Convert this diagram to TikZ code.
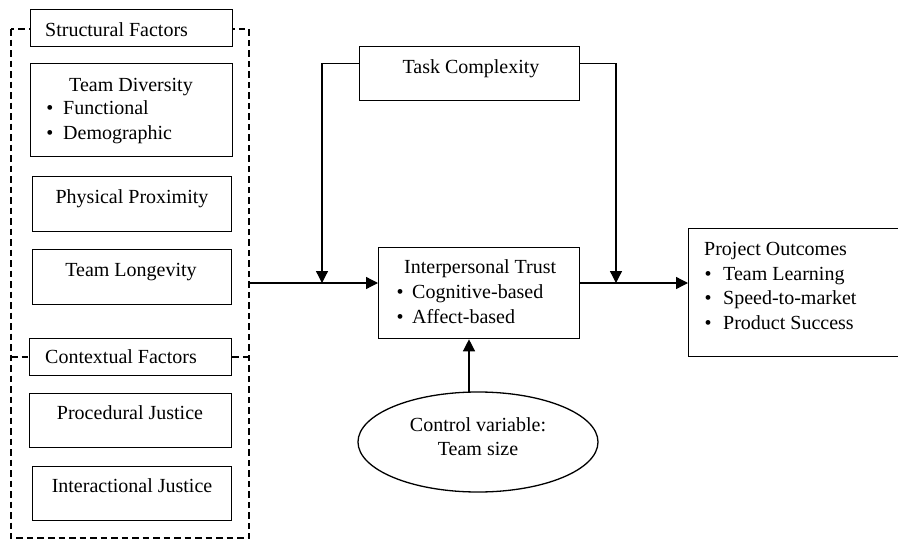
\documentclass[tikz,border=0pt]{standalone}
\usepackage{fontspec}
\setmainfont{Liberation Serif}
\usetikzlibrary{arrows.meta,shapes.geometric}
\tikzset{
  box/.style={draw, line width=1.3pt, fill=white, inner sep=0pt, anchor=north west},
  txt/.style={inner sep=0pt, font=\fontsize{20}{25}\selectfont},
  ctxt/.style={txt, anchor=base},
  ltxt/.style={txt, anchor=base west},
  conn/.style={line width=1.3pt},
  arr/.style={conn, -{Triangle[length=12pt,width=12pt]}},
  dashbox/.style={line width=1.3pt, dash pattern=on 6.5pt off 4pt}
}
\begin{document}
\begin{tikzpicture}[x=1pt,y=-1pt]
\useasboundingbox (0,0) rectangle (898,541);
\clip (0,0) rectangle (898,541);
\fill[white] (0,0) rectangle (898,541);

% dashed grouping frame
\draw[dashbox] (11,29) rectangle (249,538);

% left column boxes
\node[box, minimum width=202pt, minimum height=37pt] (sf) at (30,9) {};
\node[box, minimum width=202pt, minimum height=93pt] (td) at (30,63) {};
\node[box, minimum width=199pt, minimum height=55pt] (pp) at (32,176) {};
\node[box, minimum width=199pt, minimum height=55pt] (tl) at (32,249) {};
\node[box, minimum width=202pt, minimum height=37pt] (cf) at (29,338) {};
\node[box, minimum width=202pt, minimum height=54pt] (pj) at (29,393) {};
\node[box, minimum width=199pt, minimum height=54pt] (ij) at (32,466) {};

\coordinate (cfl) at (11,357);
\coordinate (cfr) at (249,357);
\draw[dashbox] (cfl) -- (cf.west |- cfl);
\draw[dashbox] (cf.east |- cfr) -- (cfr);

\node[ltxt] (sft) at (45,36) {Structural Factors};
\node[ctxt] (tdt) at (131,91) {Team Diversity};
\node[ctxt] (tdb1) at (50,114) {•};
\node[ltxt] (tdi1) at (63,114) {Functional};
\node[ctxt] (tdb2) at (50,139) {•};
\node[ltxt] (tdi2) at (63,139) {Demographic};
\node[ctxt] (ppt) at (132,203) {Physical Proximity};
\node[ctxt] (tlt) at (131,276) {Team Longevity};
\node[ltxt] (cft) at (45,363) {Contextual Factors};
\node[ctxt] (pjt) at (130,419) {Procedural Justice};
\node[ctxt] (ijt) at (132,492) {Interactional Justice};

% task complexity
\node[box, minimum width=220pt, minimum height=54pt] (tc) at (359,46) {};
\node[ctxt] (tct) at (471,73) {Task Complexity};

% interpersonal trust
\node[box, minimum width=201pt, minimum height=91pt] (tr) at (378,247) {};
\node[ltxt] (trt) at (404,273) {Interpersonal Trust};
\node[ctxt] (trb1) at (400,298) {•};
\node[ltxt] (tri1) at (412,298) {Cognitive-based};
\node[ctxt] (trb2) at (400,323) {•};
\node[ltxt] (tri2) at (412,323) {Affect-based};

% project outcomes
\node[box, minimum width=220pt, minimum height=128pt] (po) at (688,228) {};
\node[ltxt] (pot) at (704,255) {Project Outcomes};
\node[ctxt] (pob1) at (708,280) {•};
\node[ltxt] (poi1) at (723,280) {Team Learning};
\node[ctxt] (pob2) at (708,304) {•};
\node[ltxt] (poi2) at (723,304) {Speed-to-market};
\node[ctxt] (pob3) at (708,329) {•};
\node[ltxt] (poi3) at (723,329) {Product Success};

% control variable
\node[draw, ellipse, line width=1.3pt, inner sep=0pt, minimum width=240pt, minimum height=100pt] (cv) at (478,442) {};
\node[ctxt] (cvt1) at (478,431) {Control variable:};
\node[ctxt] (cvt2) at (478,455) {Team size};

% connectors
\coordinate (dr) at (249,283);
\coordinate (jl) at (322,283);
\coordinate (jr) at (616,283);
\draw[arr] (dr) -- (dr -| tr.west);
\draw[arr] (tr.east |- dr) -- (po.west |- dr);
\draw[arr] ([yshift=10pt]tc.west) -| (jl);
\draw[arr] ([yshift=10pt]tc.east) -| (jr);
\draw[arr] ([xshift=-9pt,yshift=-0.3pt]cv.north) -- ([xshift=-9pt]cv.north |- tr.south);
\end{tikzpicture}
\end{document}
